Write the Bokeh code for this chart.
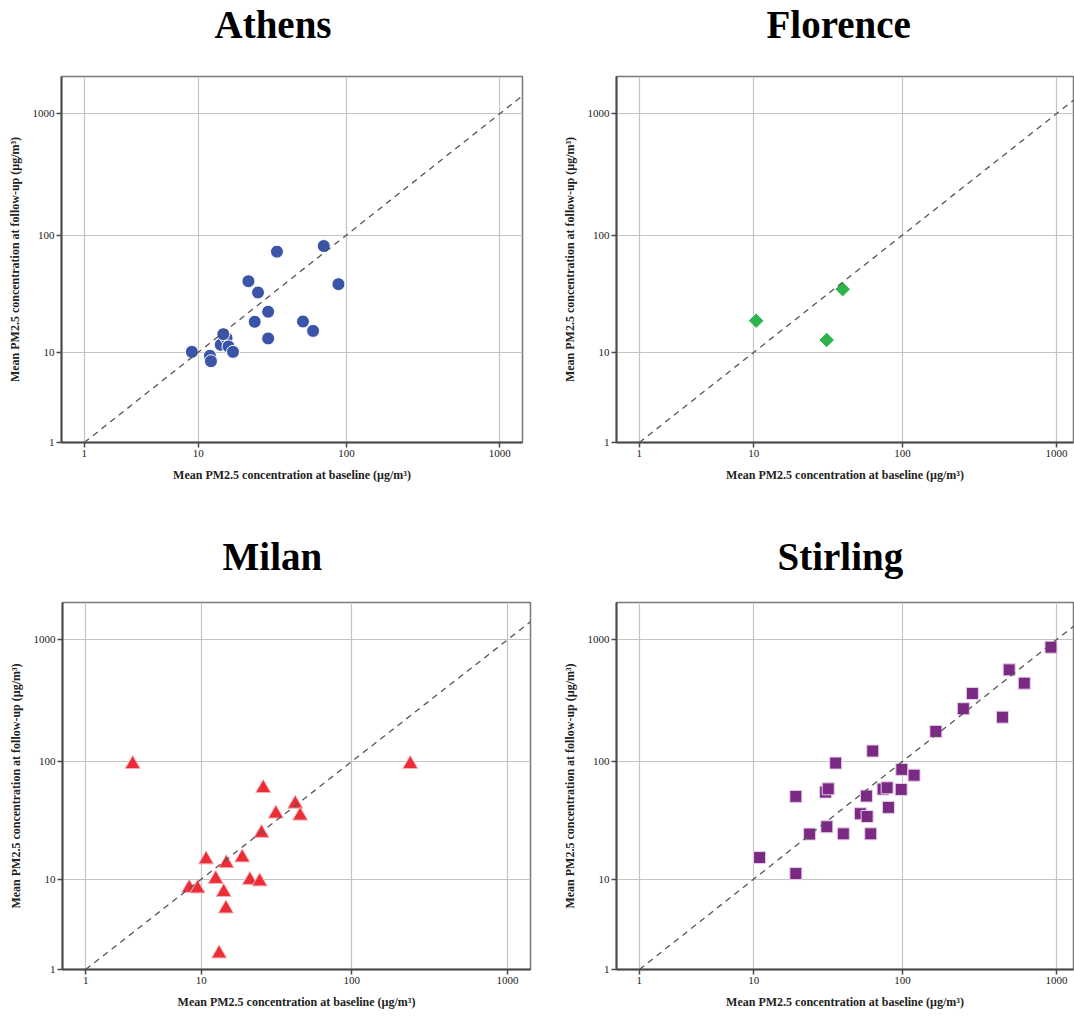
import numpy as np
from bokeh.plotting import figure
from bokeh.models import Range1d, FixedTicker, CustomJSTickFormatter, Slope, ColumnDataSource, Title
from bokeh.layouts import column, row
from bokeh.embed import file_html
from bokeh.resources import INLINE

# ---------------- data (µg/m³) ----------------
tick_values = [1, 10, 100, 1000]
x_label = "Mean PM2.5 concentration at baseline (µg/m³)"
y_label = "Mean PM2.5 concentration at follow-up (µg/m³)"

athens_baseline = [9.0, 12.1, 12.3, 14.4, 15.8, 15.0, 16.3, 17.5, 22.3, 25.9,
                   30.3, 24.6, 30.3, 34.7, 70.9, 88.6, 51.7, 60.3]
athens_followup = [10.1, 9.3, 8.3, 11.7, 13.4, 14.5, 11.3, 10.1, 41.2, 33.1,
                   22.7, 18.6, 13.3, 72.8, 81.1, 38.9, 18.7, 15.5]

florence_baseline = [10.4, 31.6, 40.4]
florence_followup = [19.0, 12.9, 35.3]

milan_baseline = [3.0, 238.0, 26.4, 42.9, 46.2, 32.0, 25.7, 10.8, 14.9, 19.1,
                  12.6, 21.5, 25.0, 8.2, 9.4, 14.3, 14.8, 13.3]
milan_followup = [95.0, 95.0, 60.0, 44.4, 35.3, 36.7, 25.2, 14.9, 13.8, 15.5,
                  10.0, 9.8, 9.5, 8.3, 8.2, 7.6, 5.3, 1.7]

stirling_baseline = [11.0, 19.6, 19.6, 24.3, 31.7, 40.8, 61.9, 31.1, 32.4, 36.3,
                     63.8, 58.0, 52.9, 58.6, 74.6, 79.3, 80.9, 98.0, 99.0, 119.0,
                     165.0, 249.0, 285.0, 447.0, 494.0, 619.0, 922.0]
stirling_followup = [15.5, 11.2, 51.3, 24.7, 28.5, 24.8, 24.8, 55.7, 59.3, 97.0,
                     122.0, 51.6, 36.7, 34.8, 59.0, 60.5, 41.5, 58.6, 86.0, 77.0,
                     177.0, 272.0, 363.0, 232.0, 567.0, 441.0, 870.0]


def safe_log(v):
    # SPSS "safe log" axis: log10(1 + x)
    return np.log10(1.0 + np.asarray(v, dtype=float))


Y_START = float(safe_log([1])[0])
Y_END = 3.306
X_START = 0.153

SERIF = "Liberation Serif"


def make_panel(title, xs, ys, marker, color, size, width, height,
               left, right, top, bottom, x_end, title_offset, title_gap,
               angle=0.0, edge="white"):
    p = figure(width=width, height=height, output_backend="svg", toolbar_location=None,
               x_range=Range1d(X_START, x_end), y_range=Range1d(Y_START, Y_END),
               min_border_left=left, min_border_right=right,
               min_border_top=top, min_border_bottom=bottom,
               background_fill_color="white", border_fill_color="white")
    p.title = None
    # spacer between frame and title, then the title itself
    p.add_layout(Title(text=" ", text_font_size="1px", standoff=title_gap), "above")
    p.add_layout(Title(text=title, align="left", vertical_align="bottom",
                       offset=title_offset, standoff=0,
                       text_font=SERIF, text_font_style="bold",
                       text_font_size="39px", text_color="black"), "above")

    ticks = [float(t) for t in safe_log(tick_values)]
    fmt = CustomJSTickFormatter(code="return String(Math.round(Math.pow(10, tick) - 1));")
    for ax in (p.xaxis[0], p.yaxis[0]):
        ax.ticker = FixedTicker(ticks=ticks)
        ax.formatter = fmt
        ax.axis_line_color = "#4a4a4a"
        ax.axis_line_width = 2
        ax.major_tick_line_color = "#4a4a4a"
        ax.major_tick_line_width = 1.5
        ax.major_tick_out = 5
        ax.major_tick_in = 0
        ax.minor_tick_line_color = None
        ax.major_label_text_font = SERIF
        ax.major_label_text_font_size = "11px"
        ax.major_label_text_color = "#222222"
        ax.major_label_standoff = 2
        ax.axis_label_text_font = SERIF
        ax.axis_label_text_font_style = "bold"
        ax.axis_label_text_font_size = "12px"
        ax.axis_label_text_color = "#222222"
        ax.axis_label_standoff = 8
    p.xaxis.axis_label = x_label
    p.yaxis.axis_label = y_label

    for g in (p.xgrid[0], p.ygrid[0]):
        g.ticker = FixedTicker(ticks=ticks)
        g.grid_line_color = "#c4c4c4"
        g.grid_line_width = 1.2

    p.outline_line_color = "#7a7a7a"
    p.outline_line_width = 1.5
    p.outline_line_alpha = 1.0

    src = ColumnDataSource(dict(x=safe_log(xs), y=safe_log(ys)))
    p.scatter("x", "y", source=src, marker=marker, size=size, angle=angle,
              fill_color=color, line_color=edge, line_width=1)

    p.add_layout(Slope(gradient=1, y_intercept=0, line_color="#555555",
                       line_width=1.3, line_dash="6 5"))
    return p


p1 = make_panel("Athens", athens_baseline, athens_followup, "circle", "#3a55a8", 13,
                540, 510, 61, 18, 75, 68, 3.148, 153, 28)
p2 = make_panel("Florence", florence_baseline, florence_followup, "square", "#2eb44a", 11,
                534, 510, 76, 1, 75, 68, 3.111, 150, 28, angle=np.pi / 4)
p3 = make_panel("Milan", milan_baseline, milan_followup, "triangle", "#ec2d38", 15,
                540, 508, 62, 10, 92, 43, 3.148, 160, 22, edge="#f7b0b4")
p4 = make_panel("Stirling", stirling_baseline, stirling_followup, "square", "#7b2a83", 12,
                534, 508, 76, 1, 92, 49, 3.111, 161, 22, edge="#e6cfe8")

layout = column(row(p1, p2), row(p3, p4))

open("out.html", "w").write(file_html(layout, INLINE))
